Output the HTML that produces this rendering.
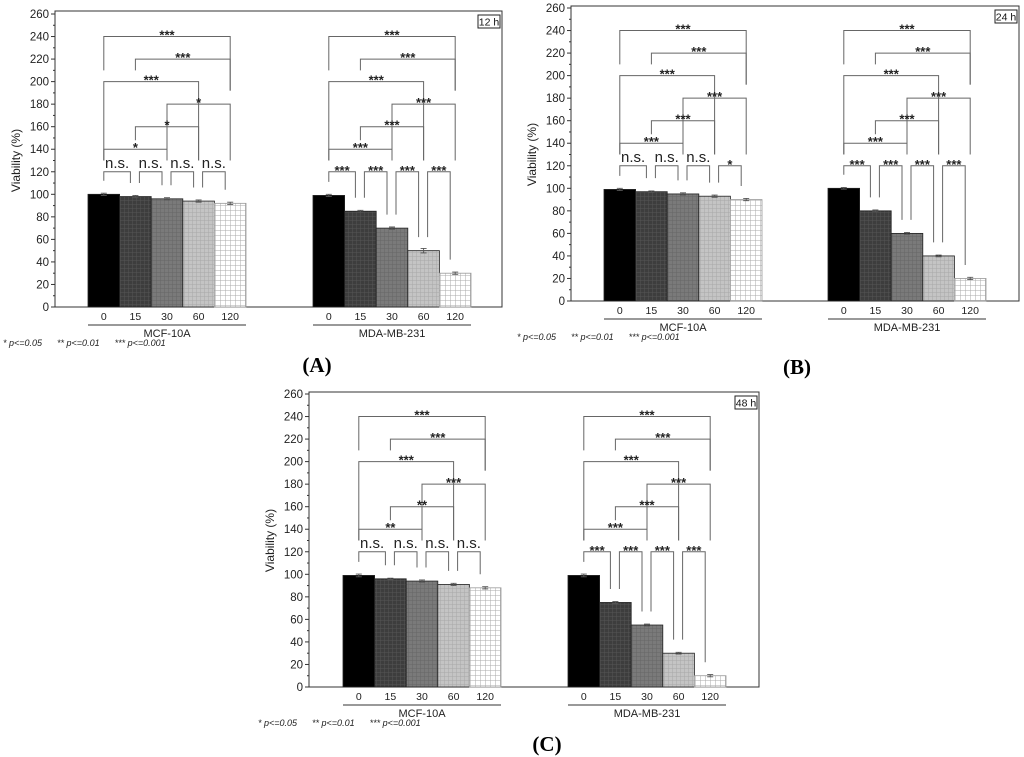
<!DOCTYPE html>
<html><head><meta charset="utf-8"><style>
html,body{margin:0;padding:0;background:#fff;}
svg{display:block;font-family:"Liberation Sans",sans-serif;}
.fn{white-space:pre;}
</style></head><body>
<svg id="fig" width="1024" height="757" viewBox="0 0 1024 757" xmlns="http://www.w3.org/2000/svg">
<defs>
<pattern id="p15" width="4" height="4" patternUnits="userSpaceOnUse"><rect width="4" height="4" fill="#3d3d3d"/><path d="M0 0H4M0 0V4" stroke="#555" stroke-width="1"/></pattern>
<pattern id="p30" width="4" height="4" patternUnits="userSpaceOnUse"><rect width="4" height="4" fill="#7a7a7a"/><path d="M0 0H4M0 0V4" stroke="#666" stroke-width="1"/></pattern>
<pattern id="p60" width="4" height="4" patternUnits="userSpaceOnUse"><rect width="4" height="4" fill="#c4c4c4"/><path d="M0 0H4M0 0V4" stroke="#a8a8a8" stroke-width="1"/></pattern>
<pattern id="p120" width="5" height="5" patternUnits="userSpaceOnUse"><rect width="5" height="5" fill="#fff"/><path d="M0 0H5M0 0V5" stroke="#aaa" stroke-width="1"/></pattern>
</defs>
</svg>
<script>
// ---- data ----
const categories = ["0","15","30","60","120"];
const groups = ["MCF-10A","MDA-MB-231"];
const panelTimes = ["12 h","24 h","48 h"];
const panelLetters = ["(A)","(B)","(C)"];
const yTicks = [0,20,40,60,80,100,120,140,160,180,200,220,240,260];
const mcfA = [100,98,96,94,92];
const mdaA = [99,85,70,50,30];
const mcfB = [99,97,95,93,90];
const mdaB = [100,80,60,40,20];
const mcfC = [99,96,94,91,88];
const mdaC = [99,75,55,30,10];
const errMcfA = [1,1,1,1,1];
const errMdaA = [1,0.8,1,2,1];
const errMcfB = [1,0.6,1,1,1];
const errMdaB = [0.8,0.8,0.8,0.8,1];
const errMcfC = [1.2,0.6,1,1,1];
const errMdaC = [1.2,0.8,0.8,0.8,1];
// bracket pairs: [from, to, level, leftEnd, rightEnd]
const spanBrackets = [[0,4,240,210,192],[1,4,220,210,192],[0,3,200,130,130],[2,4,180,130,130],[1,3,160,148,130],[0,2,140,130,130]];
const sigMcfA = ["***","***","***","*","*","*","n.s.","n.s.","n.s.","n.s."];
const sigMcfB = ["***","***","***","***","***","***","n.s.","n.s.","n.s.","*"];
const sigMcfC = ["***","***","***","***","**","**","n.s.","n.s.","n.s.","n.s."];
const sigMda = ["***","***","***","***","***","***","***","***","***","***"];

const svg = document.getElementById('fig');
const NS = "http://www.w3.org/2000/svg";
function mk(tag, attrs, parent){const e=document.createElementNS(NS,tag);for(const k in attrs)e.setAttribute(k,attrs[k]);(parent||svg).appendChild(e);return e;}
const fills = ["#000","url(#p15)","url(#p30)","url(#p60)","url(#p120)"];

const panels = [
 {L:55,T:11,R:502,y0:307,yt:14,g:[88,313],data:[mcfA,mdaA],err:[errMcfA,errMdaA],sig:[sigMcfA,sigMda],fx:3,lx:317,ly:372},
 {L:571,T:6,R:1019,y0:301,yt:8,g:[604,828],data:[mcfB,mdaB],err:[errMcfB,errMdaB],sig:[sigMcfB,sigMda],fx:517,lx:797,ly:374},
 {L:309,T:392,R:759,y0:687,yt:394,g:[343,568],data:[mcfC,mdaC],err:[errMcfC,errMdaC],sig:[sigMcfC,sigMda],fx:258,lx:547,ly:751}
];
const BW = 31.6;

panels.forEach((p,pi)=>{
  const G = mk('g',{});
  
  
  const y = v => p.y0 - (v/260)*(p.y0-p.yt);
  const fr = mk('rect',{x:p.L,y:p.T,width:p.R-p.L,height:p.y0-p.T,fill:'none',stroke:'#333','stroke-width':1},G);
  
  
  yTicks.forEach((t,i)=>{
    mk('line',{x1:p.L-4,x2:p.L,y1:y(t),y2:y(t),stroke:'#333'},G);
    if(i<yTicks.length-1) mk('line',{x1:p.L-2,x2:p.L,y1:y(t+10),y2:y(t+10),stroke:'#333'},G);
    const tx = mk('text',{x:p.L-6,y:y(t)+4,'text-anchor':'end','font-size':11.5,fill:'#222'},G);
    tx.textContent=t;
    
    
  });
  const yt = mk('text',{x:0,y:0,'font-size':12,fill:'#222','text-anchor':'middle',transform:`translate(${p.L-35},${y(130)}) rotate(-90)`},G);
  yt.textContent='Viability (%)';
  
  
  const tb = mk('rect',{x:p.R-24,y:p.T+4,width:22,height:13,fill:'#fff',stroke:'#222'},G);
  
  
  const tt = mk('text',{x:p.R-13,y:p.T+14.5,'text-anchor':'middle','font-size':10.5,fill:'#111'},G);
  tt.textContent=panelTimes[pi];
  
  
  p.g.forEach((gx,gi)=>{
    const vals = p.data[gi], errs = p.err[gi], sig = p.sig[gi];
    const cx = i => gx + BW*i + BW/2;
    vals.forEach((v,i)=>{
      const r = mk('rect',{x:gx+BW*i,y:y(v),width:BW,height:p.y0-y(v),fill:fills[i],stroke:i==4?'#999':'#222','stroke-width':0.8},G);
      
      
      const e=errs[i];
      mk('path',{d:`M${cx(i)} ${y(v+e)}V${y(v-e)}M${cx(i)-3} ${y(v+e)}H${cx(i)+3}M${cx(i)-3} ${y(v-e)}H${cx(i)+3}`,stroke:'#555',fill:'none','stroke-width':0.9},G);
      const tl = mk('text',{x:cx(i),y:p.y0+13,'text-anchor':'middle','font-size':10.5,fill:'#222'},G);
      tl.textContent=categories[i];
      
      
    });
    mk('line',{x1:gx,x2:gx+BW*5,y1:p.y0+18,y2:p.y0+18,stroke:'#333'},G);
    const gl = mk('text',{x:gx+BW*2.5,y:p.y0+30,'text-anchor':'middle','font-size':11,fill:'#222'},G);
    gl.textContent=groups[gi];
    
    
    spanBrackets.forEach((b,bi)=>{
      const x1=cx(b[0]), x2=cx(b[1]);
      mk('path',{d:`M${x1} ${y(b[3])}V${y(b[2])}H${x2}V${y(b[4])}`,stroke:'#666',fill:'none','stroke-width':1},G);
      const s = mk('text',{x:(x1+x2)/2,y:y(b[2])+3,'text-anchor':'middle','font-size':13,'font-weight':'bold',fill:'#222'},G);
      s.textContent=sig[bi];
      
      
    });
    for(let i=0;i<4;i++){
      const x1=cx(i)+(i>0?4:0), x2=cx(i+1)-5;
      mk('path',{d:`M${x1} ${y(vals[i]+12)}V${y(120)}H${x2}V${y(vals[i+1]+12)}`,stroke:'#666',fill:'none','stroke-width':1},G);
      const lab=sig[6+i], ns = lab==='n.s.';
      const s = mk('text',{x:(x1+x2)/2,y:y(120)+(ns?-4:3),'text-anchor':'middle','font-size':ns?15:13,'font-weight':ns?'normal':'bold',fill:'#222'},G);
      s.textContent=lab;
      
      
    }
  });
  const fn = mk('text',{x:p.fx,y:p.y0+39,'font-size':9,'font-style':'italic',fill:'#222','class':'fn'},G);
  fn.textContent='* p<=0.05      ** p<=0.01      *** p<=0.001';
  
  
  const pl = mk('text',{x:p.lx,y:p.ly,'text-anchor':'middle','font-size':21,'font-weight':'bold','font-family':'"Liberation Serif",serif',fill:'#000'},G);
  pl.textContent=panelLetters[pi];
  
  
});
</script>
</body></html>
